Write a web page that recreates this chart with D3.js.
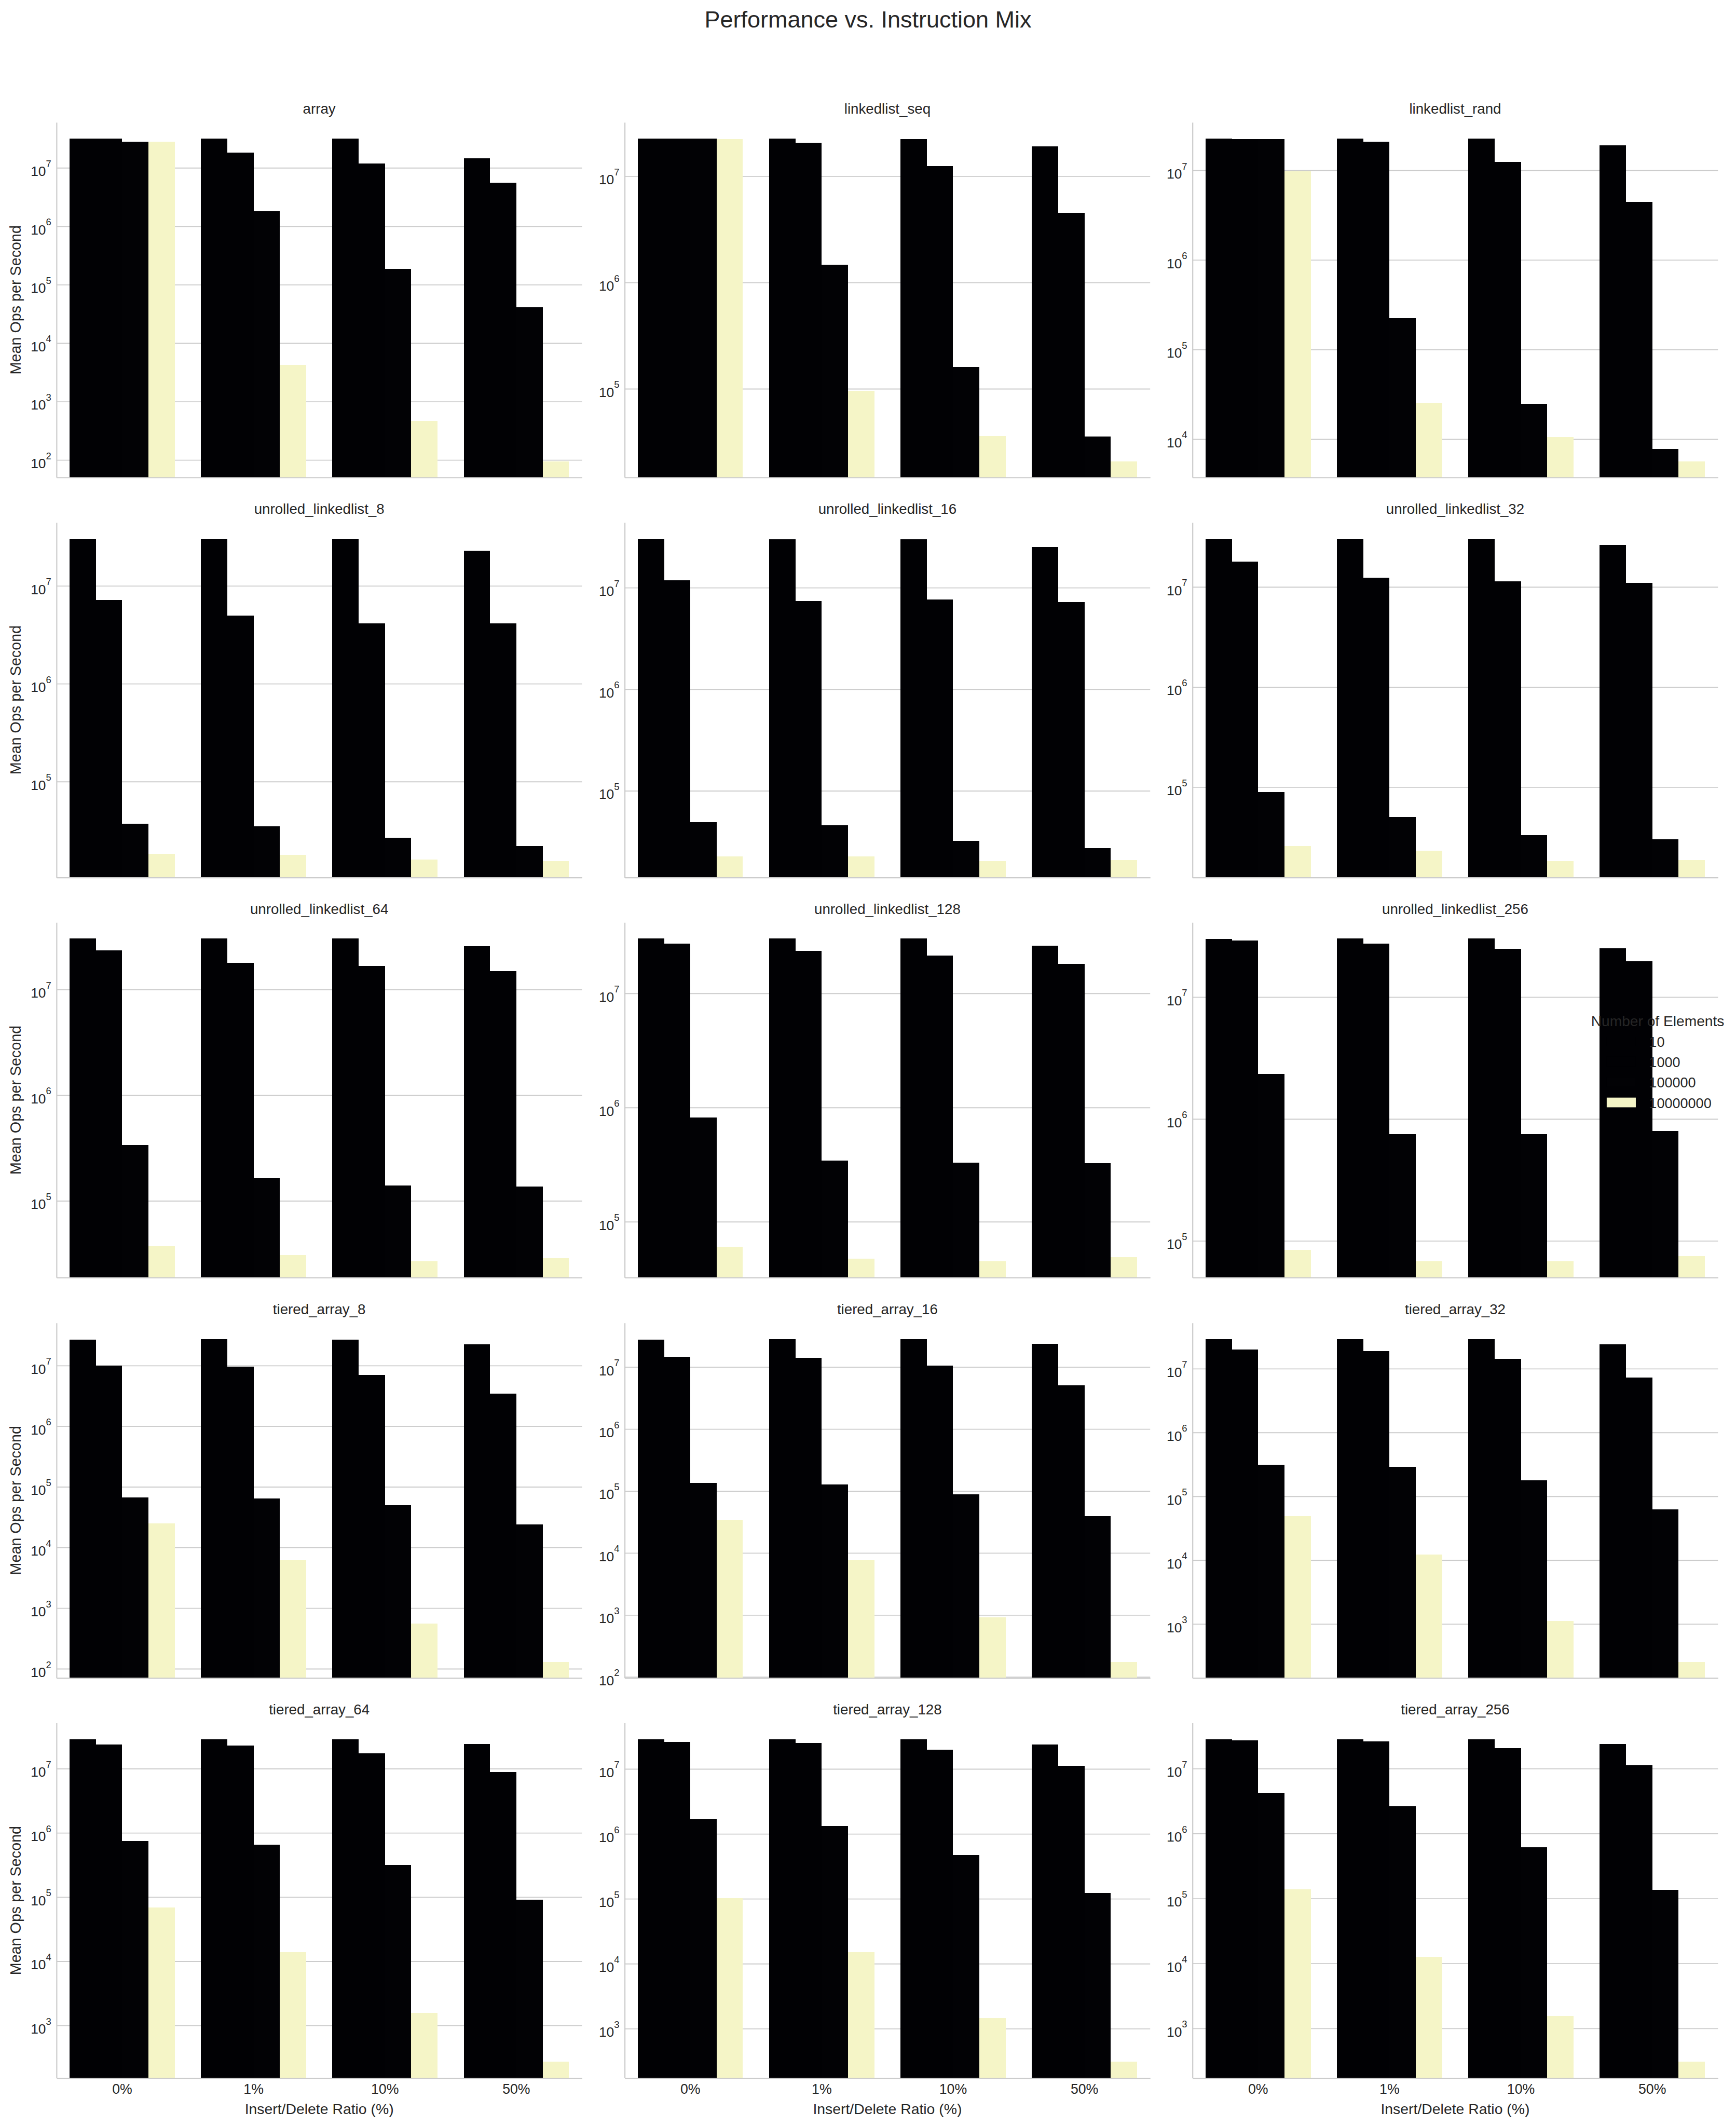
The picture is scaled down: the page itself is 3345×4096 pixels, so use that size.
<!DOCTYPE html>
<html>
<head>
<meta charset="utf-8">
<script src="https://cdn.jsdelivr.net/npm/d3@7"></script>
<style>
html,body{margin:0;padding:0;background:#ffffff;}
svg{display:block;}
text{font-family:"Liberation Sans", Arial, Helvetica, sans-serif;}
</style>
</head>
<body>
<svg id="chart" width="3345" height="4096"></svg>
<script>
// ---------------- data ----------------
const chartTitle = "Performance vs. Instruction Mix";
const xAxisTitle = "Insert/Delete Ratio (%)";
const yAxisTitle = "Mean Ops per Second";
const legendTitle = "Number of Elements";

const panelNames = [
  "array", "linkedlist_seq", "linkedlist_rand",
  "unrolled_linkedlist_8", "unrolled_linkedlist_16", "unrolled_linkedlist_32",
  "unrolled_linkedlist_64", "unrolled_linkedlist_128", "unrolled_linkedlist_256",
  "tiered_array_8", "tiered_array_16", "tiered_array_32",
  "tiered_array_64", "tiered_array_128", "tiered_array_256"
];
const ratioLabels = ["0%", "1%", "10%", "50%"];
const elementCounts = [10, 1000, 100000, 10000000];

// one row per panel, values for 0%, 1%, 10%, 50%
const ops10 = [
  [3.17e7, 3.17e7, 3.17e7, 1.46e7],
  [2.26e7, 2.26e7, 2.24e7, 1.91e7],
  [2.26e7, 2.26e7, 2.26e7, 1.90e7],
  [3.01e7, 3.01e7, 3.04e7, 2.29e7],
  [3.04e7, 3.01e7, 3.01e7, 2.50e7],
  [3.04e7, 3.01e7, 3.04e7, 2.62e7],
  [3.03e7, 3.03e7, 3.03e7, 2.56e7],
  [3.01e7, 3.01e7, 3.01e7, 2.61e7],
  [2.98e7, 3.01e7, 3.01e7, 2.52e7],
  [2.68e7, 2.73e7, 2.68e7, 2.23e7],
  [2.77e7, 2.82e7, 2.82e7, 2.35e7],
  [2.90e7, 2.90e7, 2.90e7, 2.40e7],
  [2.88e7, 2.88e7, 2.88e7, 2.44e7],
  [2.87e7, 2.87e7, 2.87e7, 2.39e7],
  [2.84e7, 2.84e7, 2.84e7, 2.39e7]
];
const ops1000 = [
  [3.17e7, 1.83e7, 1.18e7, 5.56e6],
  [2.26e7, 2.07e7, 1.25e7, 4.54e6],
  [2.23e7, 2.08e7, 1.23e7, 4.45e6],
  [7.13e6, 4.94e6, 4.13e6, 4.11e6],
  [1.18e7, 7.35e6, 7.68e6, 7.18e6],
  [1.79e7, 1.24e7, 1.14e7, 1.10e7],
  [2.36e7, 1.78e7, 1.68e7, 1.49e7],
  [2.73e7, 2.35e7, 2.13e7, 1.81e7],
  [2.92e7, 2.74e7, 2.48e7, 1.97e7],
  [1.00e7, 9.63e6, 7.00e6, 3.45e6],
  [1.46e7, 1.40e7, 1.06e7, 5.07e6],
  [1.99e7, 1.89e7, 1.43e7, 7.31e6],
  [2.37e7, 2.28e7, 1.73e7, 8.89e6],
  [2.61e7, 2.51e7, 1.99e7, 1.11e7],
  [2.74e7, 2.63e7, 2.07e7, 1.12e7]
];
const ops100000 = [
  [2.79e7, 1.82e6, 1.87e5, 4.14e4],
  [2.26e7, 1.47e6, 1.60e5, 3.55e4],
  [2.23e7, 2.25e5, 2.47e4, 7.74e3],
  [3.70e4, 3.49e4, 2.67e4, 2.18e4],
  [4.90e4, 4.60e4, 3.21e4, 2.72e4],
  [8.87e4, 5.01e4, 3.31e4, 3.02e4],
  [3.37e5, 1.64e5, 1.39e5, 1.37e5],
  [8.20e5, 3.42e5, 3.29e5, 3.25e5],
  [2.33e6, 7.54e5, 7.47e5, 7.96e5],
  [6.68e4, 6.44e4, 4.94e4, 2.39e4],
  [1.34e5, 1.28e5, 8.80e4, 3.96e4],
  [3.14e5, 2.87e5, 1.79e5, 6.28e4],
  [7.48e5, 6.59e5, 3.16e5, 9.03e4],
  [1.67e6, 1.32e6, 4.74e5, 1.22e5],
  [4.23e6, 2.65e6, 6.11e5, 1.36e5]
];
const ops10000000 = [
  [2.82e7, 4.20e3, 469, 95],
  [2.24e7, 9.57e4, 3.60e4, 2.08e4],
  [9.75e6, 2.54e4, 1.06e4, 5.66e3],
  [1.83e4, 1.79e4, 1.59e4, 1.53e4],
  [2.27e4, 2.26e4, 2.02e4, 2.09e4],
  [2.58e4, 2.31e4, 1.81e4, 1.87e4],
  [3.70e4, 3.06e4, 2.67e4, 2.87e4],
  [6.04e4, 4.75e4, 4.49e4, 4.89e4],
  [8.41e4, 6.78e4, 6.78e4, 7.48e4],
  [2.49e4, 6.18e3, 555, 130],
  [3.45e4, 7.66e3, 920, 175],
  [4.89e4, 1.22e4, 1110, 255],
  [6.81e4, 1.38e4, 1580, 270],
  [1.02e5, 1.52e4, 1460, 307],
  [1.39e5, 1.27e4, 1550, 304]
];
const seriesByCount = [ops10, ops1000, ops100000, ops10000000];

// ---------------- layout (reference px, scaled) ----------------
const S = 3345 / 5008;
const colLeft = [163, 1802, 3440].map(v => v * S);
const rowTop = [353, 1507, 2661, 3816, 4970].map(v => v * S);
const PW = 1516 * S, PH = 1024 * S;
const TEXT = "#262626", GRID = "#cccccc";

const svg = d3.select("#chart");
svg.append("rect").attr("width", 3345).attr("height", 4096).attr("fill", "#ffffff");

// colours: numeric hue normalised linearly, magma, seaborn saturation 0.75
const colorScale = d3.scaleSequential(d3.interpolateMagma)
  .domain([d3.min(elementCounts), d3.max(elementCounts)]);
function desat(c) { const h = d3.hsl(c); h.s *= 0.75; return h.formatHex(); }
const barColor = elementCounts.map(v => desat(colorScale(v)));

// title
svg.append("text")
  .attr("x", 2504 * S).attr("y", 79 * S)
  .attr("text-anchor", "middle").attr("fill", TEXT)
  .attr("font-size", 67.4 * S).text(chartTitle);

panelNames.forEach((name, i) => {
  const col = i % 3, row = Math.floor(i / 3);
  const x0 = colLeft[col], top = rowTop[row], bottom = top + PH;
  const g = svg.append("g");

  const vals = seriesByCount.map(arr => arr[i]);
  const flat = vals.flat();
  const lmin = Math.log10(d3.min(flat)), lmax = Math.log10(d3.max(flat));
  const r = lmax - lmin;
  const lo = lmin - 0.05 * r, hi = lmax + 0.05 * r;
  const y = d3.scaleLog().domain([Math.pow(10, lo), Math.pow(10, hi)]).range([bottom, top]);
  const decades = d3.range(Math.ceil(lo), Math.floor(hi) + 1).map(k => Math.pow(10, k));

  const x = d3.scaleBand().domain(ratioLabels).range([x0, x0 + PW])
    .paddingInner(0.2).paddingOuter(0.1);
  const xh = d3.scaleBand().domain(elementCounts).range([0, x.bandwidth()]);

  // grid + y tick labels
  g.append("g").attr("transform", `translate(${x0},0)`)
    .call(d3.axisLeft(y).tickValues(decades).tickSize(-PW).tickPadding(15 * S).tickFormat(() => ""))
    .call(a => a.select(".domain").remove())
    .call(a => a.selectAll(".tick line").attr("stroke", GRID).attr("stroke-width", 2.7 * S))
    .call(a => a.selectAll(".tick text")
      .attr("dy", null).attr("y", 23 * S)
      .attr("fill", TEXT).attr("font-size", 39.6 * S)
      .attr("font-family", '"Liberation Sans", Arial, sans-serif')
      .each(function (d) {
        const t = d3.select(this);
        t.append("tspan").text("10");
        t.append("tspan").attr("dy", -26 * S).attr("font-size", 39.6 * 0.7 * S)
          .text(Math.round(Math.log10(d)));
      }));

  // bars
  const barData = [];
  ratioLabels.forEach((rl, ri) => {
    elementCounts.forEach((ec, ci) => {
      barData.push({ ratio: rl, count: ec, ci: ci, value: vals[ci][ri] });
    });
  });
  g.append("g").selectAll("rect").data(barData).join("rect")
    .attr("x", d => x(d.ratio) + xh(d.count))
    .attr("width", xh.bandwidth())
    .attr("y", d => y(d.value))
    .attr("height", d => bottom - y(d.value))
    .attr("fill", d => barColor[d.ci])
    .attr("shape-rendering", "crispEdges");

  // left spine
  g.append("g").attr("transform", `translate(${x0},0)`)
    .call(d3.axisLeft(y).tickValues([]).tickSizeOuter(0))
    .call(a => a.select(".domain").attr("stroke", GRID).attr("stroke-width", 3.3 * S));

  // bottom spine + x tick labels
  const isBottom = row === 4;
  g.append("g").attr("transform", `translate(0,${bottom})`)
    .call(d3.axisBottom(x).tickSize(0).tickSizeOuter(0).tickPadding(0)
      .tickFormat(isBottom ? (d => d) : (() => "")))
    .call(a => a.select(".domain").attr("stroke", GRID).attr("stroke-width", 3.3 * S))
    .call(a => a.selectAll(".tick text")
      .attr("dy", null).attr("y", 46 * S)
      .attr("fill", TEXT).attr("font-size", 40 * S)
      .attr("font-family", '"Liberation Sans", Arial, sans-serif'));

  // panel title
  g.append("text")
    .attr("x", x0 + PW / 2).attr("y", top - 25 * S)
    .attr("text-anchor", "middle").attr("fill", TEXT)
    .attr("font-size", 41.5 * S).text(name);

  // axis titles
  if (isBottom) {
    g.append("text")
      .attr("x", x0 + PW / 2).attr("y", bottom + 104 * S)
      .attr("text-anchor", "middle").attr("fill", TEXT)
      .attr("font-size", 42.5 * S).text(xAxisTitle);
  }
  if (col === 0) {
    g.append("text")
      .attr("transform", `translate(${60 * S},${top + PH / 2}) rotate(-90)`)
      .attr("text-anchor", "middle").attr("fill", TEXT)
      .attr("font-size", 43 * S).text(yAxisTitle);
  }
});

// legend (drawn on top of everything)
const lg = svg.append("g");
lg.append("text")
  .attr("x", 4782 * S).attr("y", 2960 * S)
  .attr("text-anchor", "middle").attr("fill", TEXT)
  .attr("font-size", 42.2 * S).text(legendTitle);
const legendBase = [3020, 3078, 3137, 3196];
elementCounts.forEach((ec, ci) => {
  const b = legendBase[ci] * S;
  lg.append("rect")
    .attr("x", 4635 * S).attr("y", b - 30 * S)
    .attr("width", 84 * S).attr("height", 28 * S)
    .attr("fill", barColor[ci]);
  lg.append("text")
    .attr("x", 4757 * S).attr("y", b)
    .attr("fill", TEXT).attr("font-size", 40.5 * S)
    .text(String(ec));
});
</script>
</body>
</html>
